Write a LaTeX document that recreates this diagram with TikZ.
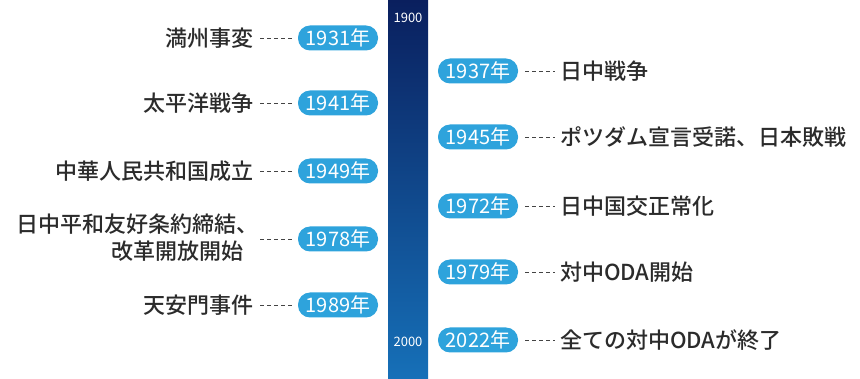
\documentclass[tikz,border=0pt]{standalone}
\usepackage{fontspec}
\newfontfamily\jp{Noto Sans CJK JP Medium}
\newfontfamily\jpn{Noto Sans CJK JP}
\definecolor{pill}{HTML}{2EA3DC}
\definecolor{txt}{HTML}{2B2B2B}
\definecolor{bartop}{HTML}{0A1F5E}
\definecolor{barbot}{HTML}{1670B8}
\definecolor{dash}{HTML}{444444}
\begin{document}
\begin{tikzpicture}[x=1pt,y=-1pt,
  yearpill/.style={fill=pill,rounded corners=12pt,minimum width=80pt,minimum height=25pt,inner sep=0pt,text=white,font=\jpn\fontsize{20}{20}\selectfont},
  lbl/.style={text=txt,font=\jp\fontsize{22}{27}\selectfont,inner sep=0pt},
  conn/.style={draw=dash,line width=0.9pt,dash pattern=on 4pt off 3pt},
  tick/.style={text=white,font=\jpn\fontsize{13}{13}\selectfont,inner sep=0pt}]
\useasboundingbox (0,0) rectangle (860,379);
\fill[top color=bartop,bottom color=barbot] (388,0) rectangle (428,379);
\node[tick] (t1900) at (408,18) {1900};
\node[tick] (t2000) at (408,342) {2000};
% left pills
\node[yearpill] (y1931) at (338,38) {1931年};
\node[yearpill] (y1941) at (338,103) {1941年};
\node[yearpill] (y1949) at (338,171) {1949年};
\node[yearpill] (y1978) at (338,239) {1978年};
\node[yearpill] (y1989) at (338,305) {1989年};
% right pills
\node[yearpill] (y1937) at (478,71) {1937年};
\node[yearpill] (y1945) at (478,137) {1945年};
\node[yearpill] (y1972) at (478,206) {1972年};
\node[yearpill] (y1979) at (478,272) {1979年};
\node[yearpill] (y2022) at (478,340) {2022年};
% left labels
\node[lbl,anchor=east] (e1931) at (254,38) {満州事変};
\node[lbl,anchor=east] (e1941) at (254,103) {太平洋戦争};
\node[lbl,anchor=east] (e1949) at (254,171) {中華人民共和国成立};
\node[lbl,anchor=east,align=right] (e1978) at (259,238) {日中平和友好条約締結、\\改革開放開始\hspace*{15pt}};
\node[lbl,anchor=east] (e1989) at (254,305) {天安門事件};
% right labels
\node[lbl,anchor=west] (e1937) at (560,71) {日中戦争};
\node[lbl,anchor=west] (e1945) at (560,137) {ポツダム宣言受諾、日本敗戦};
\node[lbl,anchor=west] (e1972) at (560,206) {日中国交正常化};
\node[lbl,anchor=west] (e1979) at (560,272) {対中ODA開始};
\node[lbl,anchor=west] (e2022) at (560,340) {全ての対中ODAが終了};
% connectors
\foreach \a/\b in {e1931/y1931,e1941/y1941,e1949/y1949,e1989/y1989}
  \draw[conn] ([xshift=6pt]\a.east) -- ([xshift=-6pt]\b.west);
\draw[conn] (260,239) -- ([xshift=-6pt]y1978.west);
\foreach \a/\b in {y1937/e1937,y1945/e1945,y1972/e1972,y1979/e1979,y2022/e2022}
  \draw[conn] ([xshift=7pt]\a.east) -- ([xshift=-5pt]\b.west);
\end{tikzpicture}
\end{document}
